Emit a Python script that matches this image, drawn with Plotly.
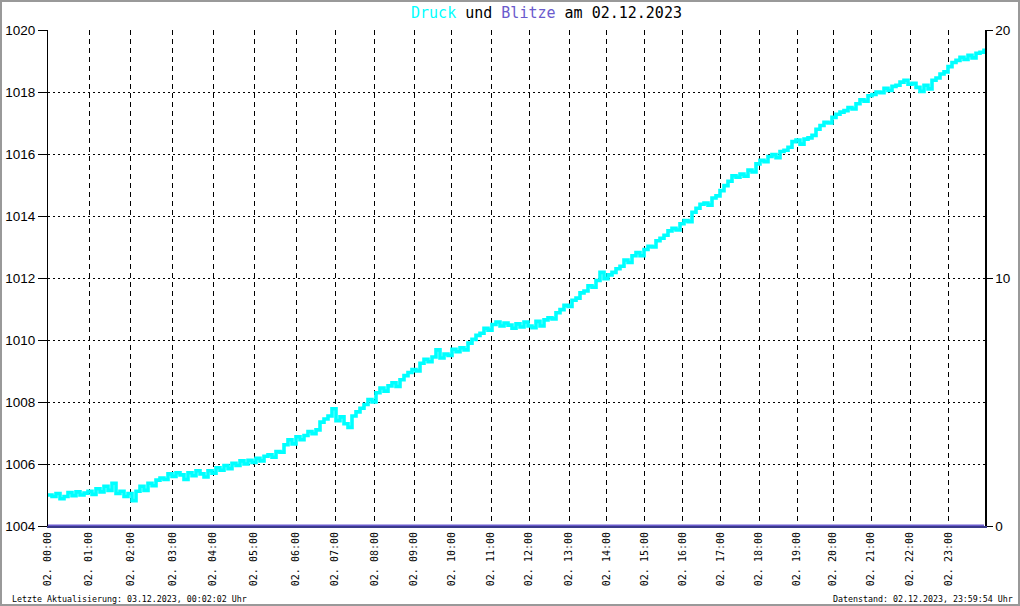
import plotly.graph_objects as go

# ---- data ----
hour_labels = ["02. %02d:00" % h for h in range(24)]
# sample index at which each hour starts (samples are not evenly spaced in time)
hour_sample_index = [0, 10.3, 20.7, 31.1, 41.3, 51.5, 62, 71.75, 81.7, 91.5, 100.9,
                     110.75, 120.25, 130.25, 139.6, 149.1, 158.6, 168.2, 177.8,
                     187.25, 196.3, 205.8, 215.5, 225.1]
last_sample_index = 234.25

druck = [
    1005.00, 1004.95, 1005.05, 1004.88, 1004.95, 1005.08, 1004.98, 1005.10, 1005.00, 1005.06,
    1005.12, 1005.02, 1005.20, 1005.10, 1005.28, 1005.15, 1005.38, 1005.05, 1005.12, 1004.95,
    1005.05, 1004.82, 1005.12, 1005.28, 1005.15, 1005.38, 1005.30, 1005.48, 1005.55, 1005.50,
    1005.68, 1005.60, 1005.72, 1005.65, 1005.50, 1005.72, 1005.62, 1005.78, 1005.68, 1005.58,
    1005.78, 1005.70, 1005.88, 1005.80, 1005.95, 1005.85, 1006.02, 1005.95, 1006.10, 1006.00,
    1006.12, 1006.05, 1006.18, 1006.10, 1006.25, 1006.30, 1006.22, 1006.40, 1006.38, 1006.62,
    1006.78, 1006.65, 1006.88, 1006.78, 1006.92, 1007.05, 1006.98, 1007.10, 1007.35, 1007.45,
    1007.55, 1007.78, 1007.40, 1007.52, 1007.30, 1007.18, 1007.55, 1007.68, 1007.80, 1007.92,
    1008.08, 1008.00, 1008.30, 1008.45, 1008.35, 1008.52, 1008.62, 1008.50, 1008.72, 1008.85,
    1008.95, 1009.05, 1009.00, 1009.25, 1009.38, 1009.30, 1009.45, 1009.68, 1009.42, 1009.55,
    1009.50, 1009.70, 1009.62, 1009.75, 1009.68, 1009.90, 1010.02, 1010.15, 1010.22, 1010.38,
    1010.32, 1010.50, 1010.58, 1010.45, 1010.55, 1010.48, 1010.38, 1010.52, 1010.42, 1010.58,
    1010.45, 1010.40, 1010.60, 1010.45, 1010.65, 1010.72, 1010.68, 1010.88, 1010.98, 1011.12,
    1011.08, 1011.28, 1011.35, 1011.52, 1011.58, 1011.75, 1011.70, 1011.92, 1012.18, 1011.98,
    1012.10, 1012.18, 1012.30, 1012.38, 1012.58, 1012.50, 1012.72, 1012.82, 1012.72, 1012.92,
    1013.02, 1013.00, 1013.20, 1013.28, 1013.38, 1013.52, 1013.60, 1013.55, 1013.75, 1013.85,
    1013.82, 1014.12, 1014.25, 1014.38, 1014.42, 1014.35, 1014.58, 1014.65, 1014.82, 1014.98,
    1015.12, 1015.30, 1015.25, 1015.35, 1015.28, 1015.48, 1015.42, 1015.68, 1015.80, 1015.75,
    1015.92, 1015.98, 1015.88, 1016.08, 1016.12, 1016.22, 1016.40, 1016.45, 1016.32, 1016.48,
    1016.52, 1016.60, 1016.80, 1016.92, 1017.02, 1017.00, 1017.18, 1017.28, 1017.35, 1017.40,
    1017.50, 1017.45, 1017.62, 1017.75, 1017.70, 1017.88, 1017.92, 1018.00, 1017.98, 1018.12,
    1018.05, 1018.18, 1018.22, 1018.32, 1018.38, 1018.25, 1018.28, 1018.15, 1018.02, 1018.22,
    1018.10, 1018.38, 1018.45, 1018.58, 1018.65, 1018.82, 1018.95, 1019.02, 1019.12, 1019.05,
    1019.18, 1019.10, 1019.25, 1019.28, 1019.40,
]
blitze = [0] * len(druck)
sample_index = list(range(len(druck)))

left_ticks = [1004, 1006, 1008, 1010, 1012, 1014, 1016, 1018, 1020]
right_ticks = [0, 10, 20]

title_date = "02.12.2023"
footer_left = "Letzte Aktualisierung: 03.12.2023, 00:02:02 Uhr"
footer_right = "Datenstand: 02.12.2023, 23:59:54 Uhr"

# ---- styles ----
CYAN = "#00FFFF"
SLATE = "#6A5ACD"
MONO = "DejaVu Sans Mono"
SANS = "Liberation Sans"

W, H = 1020, 606
ML, MR, MT, MB = 48, 35, 30, 80
PW, PH = W - ML - MR, H - MT - MB

def px_x(x):
    return (x - ML) / PW

def px_y(y):
    return (H - MB - y) / PH

fig = go.Figure()
fig.add_trace(go.Scatter(x=sample_index, y=druck, mode="lines", line=dict(color=CYAN, width=3.6, shape="hv"),
                         name="Druck", yaxis="y", showlegend=False, hoverinfo="skip"))
fig.add_trace(go.Scatter(x=sample_index, y=blitze, mode="lines", line=dict(color=SLATE, width=3),
                         name="Blitze", yaxis="y2", showlegend=False, hoverinfo="skip"))

fig.update_layout(
    width=W, height=H,
    margin=dict(l=ML, r=MR, t=MT, b=MB, autoexpand=False),
    paper_bgcolor="white", plot_bgcolor="white",
    title=dict(
        text=f'<span style="color:{CYAN}">Druck</span> und <span style="color:{SLATE}">Blitze</span> am {title_date}',
        font=dict(family=MONO, size=15, color="black"),
        x=546.5 / W, xanchor="center", xref="container",
        y=1 - 13 / H, yanchor="middle", yref="container",
    ),
    xaxis=dict(
        range=[0, last_sample_index], tickmode="array", tickvals=hour_sample_index, ticktext=hour_labels,
        tickangle=-90, tickfont=dict(family=MONO, size=10, color="black"), ticks="", ticklen=0,
        showgrid=True, gridcolor="black", gridwidth=1, griddash="5px,4px",
        showline=True, linecolor="#3a3a8a", linewidth=2, zeroline=False, automargin=False,
        fixedrange=True,
    ),
    yaxis=dict(
        range=[1004, 1020], tickmode="array", tickvals=left_ticks,
        tickfont=dict(family=SANS, size=13.5, color="black"), ticks="outside", ticklen=9, tickcolor="black",
        showgrid=True, gridcolor="black", gridwidth=1, griddash="2px,3px",
        showline=True, linecolor="black", linewidth=1, zeroline=False, automargin=False,
        fixedrange=True,
    ),
    yaxis2=dict(
        range=[0, 20], overlaying="y", side="right", tickmode="array", tickvals=right_ticks,
        tickfont=dict(family=SANS, size=13.5, color="black"), ticks="outside", ticklen=6, tickcolor="black",
        showgrid=False, showline=True, linecolor="black", linewidth=1.5, zeroline=False, automargin=False,
        fixedrange=True,
    ),
    annotations=[
        dict(text=footer_left, xref="paper", yref="paper", x=px_x(10), y=px_y(599),
             xanchor="left", yanchor="middle", showarrow=False,
             font=dict(family=MONO, size=8.3, color="black")),
        dict(text=footer_right, xref="paper", yref="paper", x=px_x(1015), y=px_y(599),
             xanchor="right", yanchor="middle", showarrow=False,
             font=dict(family=MONO, size=8.3, color="black")),
    ],
    shapes=[
        dict(type="rect", xref="paper", yref="paper", x0=px_x(1), x1=px_x(1019), y0=px_y(605), y1=px_y(1),
             line=dict(color="#999999", width=2), fillcolor="rgba(0,0,0,0)", layer="below"),
    ],
)

fig.write_html("out.html", config={"displayModeBar": False, "staticPlot": True},
               post_script="document.body.style.margin='0px';document.body.style.overflow='hidden';")
